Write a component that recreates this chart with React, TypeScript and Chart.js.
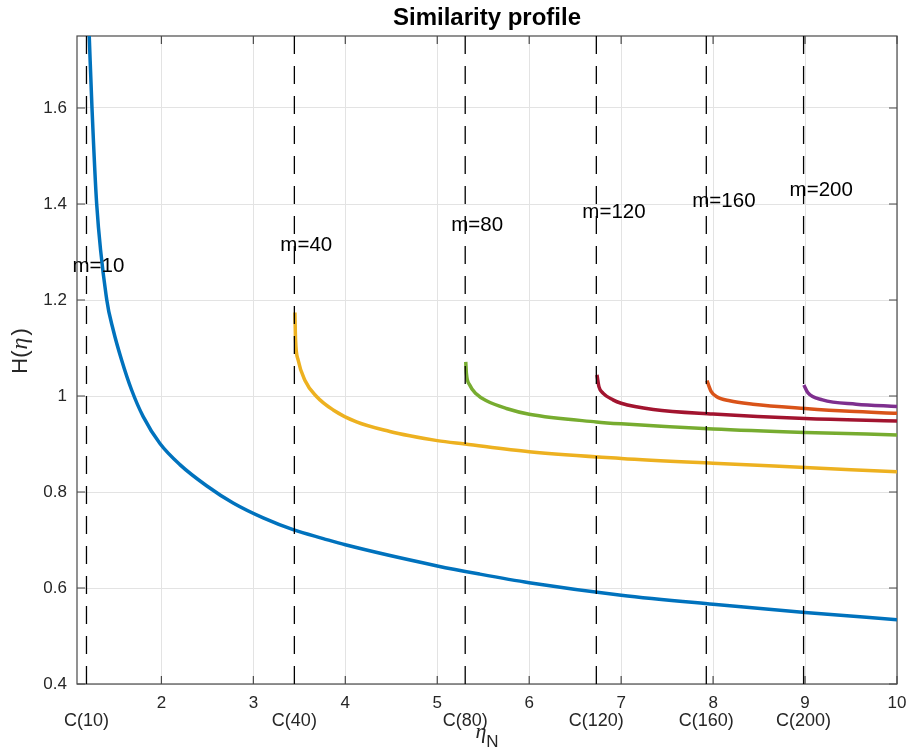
import { useEffect, useRef } from "react";
import { Chart, registerables } from "chart.js";

Chart.register(...registerables);

// ---- axis limits & ticks ----
const X_MIN = 1.082;
const X_MAX = 10;
const Y_MIN = 0.4;
const Y_MAX = 1.75;
const X_TICKS = [2, 3, 4, 5, 6, 7, 8, 9, 10];
const Y_TICKS = [0.4, 0.6, 0.8, 1.0, 1.2, 1.4, 1.6];

// ---- categories ----
const C_POSITIONS = [1.185, 3.446, 5.304, 6.73, 7.926, 8.984];
const C_LABELS = ["C(10)", "C(40)", "C(80)", "C(120)", "C(160)", "C(200)"];
const M_LABELS = ["m=10", "m=40", "m=80", "m=120", "m=160", "m=200"];
const M_LABEL_Y = [1.271, 1.314, 1.356, 1.383, 1.405, 1.428];
const SERIES_COLORS = ["#0072BD", "#EDB120", "#77AC30", "#A2142F", "#D95319", "#7E2F8E"];

// ---- series values [eta, H] ----
const H_M10: [number, number][] = [
  [1.215, 1.75], [1.245, 1.6], [1.296, 1.4], [1.406, 1.2], [1.476, 1.1375],
  [1.567, 1.075], [1.676, 1.0125], [1.802, 0.957], [1.984, 0.901], [2.201, 0.857],
  [2.491, 0.813], [2.78, 0.777], [3.107, 0.746], [3.44, 0.721], [3.76, 0.703],
  [4.0, 0.69], [5.0, 0.646], [5.46, 0.629], [6.0, 0.611], [7.0, 0.585],
  [8.0, 0.566], [9.0, 0.549], [10.0, 0.534],
];
const H_M40: [number, number][] = [
  [3.452, 1.174], [3.459, 1.117], [3.487, 1.075], [3.56, 1.033], [3.687, 0.999],
  [3.868, 0.971], [4.122, 0.946], [4.484, 0.926], [4.701, 0.917], [5.0, 0.907],
  [5.3, 0.9], [6.0, 0.884], [7.0, 0.87], [8.0, 0.86], [9.0, 0.851], [10.0, 0.842],
];
const H_M80: [number, number][] = [
  [5.31, 1.071], [5.317, 1.047], [5.353, 1.023], [5.426, 1.004], [5.535, 0.99],
  [5.752, 0.974], [6.0, 0.962], [6.73, 0.946], [7.0, 0.942], [8.0, 0.931],
  [9.0, 0.924], [10.0, 0.919],
];
const H_M120: [number, number][] = [
  [6.737, 1.044], [6.759, 1.019], [6.802, 1.006], [6.911, 0.992], [7.0, 0.985],
  [7.35, 0.972], [8.0, 0.9625], [9.0, 0.953], [10.0, 0.948],
];
const H_M160: [number, number][] = [
  [7.933, 1.032], [7.98, 1.009], [8.035, 0.999], [8.18, 0.99], [8.433, 0.983],
  [9.0, 0.974], [9.484, 0.968], [10.0, 0.964],
];
const H_M200: [number, number][] = [
  [8.987, 1.023], [9.03, 1.007], [9.19, 0.992], [9.556, 0.983], [10.0, 0.978],
];
const SERIES = [H_M10, H_M40, H_M80, H_M120, H_M160, H_M200];

const SANS = "'Liberation Sans', Arial, Helvetica, sans-serif";
const SERIF = "'Liberation Serif', 'DejaVu Serif', serif";
const AXIS_COLOR = "#4a4a4a";
const TEXT_COLOR = "#262626";

const decorPlugin = {
  id: "matlabDecor",
  beforeDatasetsDraw(chart: any) {
    const { ctx, chartArea: a, scales } = chart;
    ctx.save();
    ctx.strokeStyle = AXIS_COLOR;
    ctx.lineWidth = 1.2;
    ctx.strokeRect(a.left, a.top, a.right - a.left, a.bottom - a.top);
    const L = 8;
    ctx.beginPath();
    X_TICKS.forEach((v) => {
      const px = scales.x.getPixelForValue(v);
      ctx.moveTo(px, a.bottom);
      ctx.lineTo(px, a.bottom - L);
      ctx.moveTo(px, a.top);
      ctx.lineTo(px, a.top + L);
    });
    Y_TICKS.forEach((v) => {
      const py = scales.y.getPixelForValue(v);
      ctx.moveTo(a.left, py);
      ctx.lineTo(a.left + L, py);
      ctx.moveTo(a.right, py);
      ctx.lineTo(a.right - L, py);
    });
    ctx.stroke();
    ctx.restore();
  },
  afterDatasetsDraw(chart: any) {
    const { ctx, scales } = chart;
    ctx.save();
    ctx.fillStyle = "#000";
    ctx.font = `20.5px ${SANS}`;
    ctx.textAlign = "left";
    ctx.textBaseline = "middle";
    M_LABELS.forEach((t, i) => {
      const px = scales.x.getPixelForValue(C_POSITIONS[i]) - 14;
      const py = scales.y.getPixelForValue(M_LABEL_Y[i]);
      ctx.fillText(t, px, py);
    });
    ctx.restore();
  },
  afterDraw(chart: any) {
    const { ctx, chartArea: a } = chart;
    ctx.save();
    ctx.fillStyle = TEXT_COLOR;
    // y title: H(η)
    const yc = (a.top + a.bottom) / 2 - 9;
    ctx.translate(21, yc);
    ctx.rotate(-Math.PI / 2);
    ctx.textBaseline = "middle";
    ctx.textAlign = "left";
    const parts = [
      { t: "H(", f: `22px ${SANS}`, gap: 1 },
      { t: "η", f: `italic 24px ${SERIF}`, gap: 2 },
      { t: ")", f: `22px ${SANS}`, gap: 0 },
    ];
    let total = 0;
    parts.forEach((p) => {
      ctx.font = p.f;
      total += ctx.measureText(p.t).width + p.gap;
    });
    let cx = -total / 2;
    parts.forEach((p) => {
      ctx.font = p.f;
      ctx.fillText(p.t, cx, 0);
      cx += ctx.measureText(p.t).width + p.gap;
    });
    ctx.restore();

    // x title: η_N
    ctx.save();
    ctx.fillStyle = TEXT_COLOR;
    ctx.textBaseline = "alphabetic";
    ctx.textAlign = "left";
    const etaFont = `italic 22px ${SERIF}`;
    const nFont = `17px ${SANS}`;
    ctx.font = etaFont;
    const wEta = ctx.measureText("η").width;
    ctx.font = nFont;
    const wN = ctx.measureText("N").width;
    const xc = (a.left + a.right) / 2;
    const x0 = xc - (wEta + wN) / 2;
    ctx.font = etaFont;
    ctx.fillText("η", x0, 738);
    ctx.font = nFont;
    ctx.fillText("N", x0 + wEta, 747);
    ctx.restore();
  },
};

export default function App() {
  const ref = useRef<HTMLCanvasElement | null>(null);

  useEffect(() => {
    if (!ref.current) return;
    const dashed = C_POSITIONS.map((c) => ({
      type: "line" as const,
      data: [
        { x: c, y: Y_MIN },
        { x: c, y: Y_MAX },
      ],
      borderColor: "#000",
      borderWidth: 1.3,
      borderDash: [18, 12],
      pointRadius: 0,
      fill: false,
      clip: 0,
    }));
    const curves = SERIES.map((s, i) => ({
      type: "line" as const,
      label: M_LABELS[i],
      data: s.map(([x, y]) => ({ x, y })),
      borderColor: SERIES_COLORS[i],
      backgroundColor: SERIES_COLORS[i],
      borderWidth: 3.5,
      pointRadius: 0,
      fill: false,
      cubicInterpolationMode: "monotone" as const,
      clip: 0,
    }));

    const chart = new Chart(ref.current, {
      type: "line",
      data: { datasets: [...dashed, ...curves] as any },
      plugins: [decorPlugin],
      options: {
        animation: false,
        responsive: true,
        maintainAspectRatio: false,
        layout: { padding: { left: 0, right: 10, top: 0, bottom: 0 } },
        plugins: {
          legend: { display: false },
          tooltip: { enabled: false },
          title: {
            display: true,
            text: "Similarity profile",
            color: "#000",
            fullSize: false,
            font: { family: SANS, size: 24, weight: "bold" },
            padding: { top: 4.1, bottom: 3.1 },
          },
        },
        scales: {
          x: {
            type: "linear",
            position: "bottom",
            min: X_MIN,
            max: X_MAX,
            afterBuildTicks: (scale: any) => {
              scale.ticks = X_TICKS.map((v) => ({ value: v }));
            },
            afterFit: (scale: any) => {
              scale.height = 27;
              scale.paddingLeft = 0;
              scale.paddingRight = 0;
            },
            ticks: {
              autoSkip: false,
              maxRotation: 0,
              minRotation: 0,
              padding: 9,
              color: TEXT_COLOR,
              font: { family: SANS, size: 17 },
              callback: (v: any) => String(v),
            },
            grid: { color: "#e3e3e3", lineWidth: 1, drawTicks: false },
            border: { display: false },
          },
          x2: {
            type: "linear",
            position: "bottom",
            min: X_MIN,
            max: X_MAX,
            afterBuildTicks: (scale: any) => {
              scale.ticks = C_POSITIONS.map((v) => ({ value: v }));
            },
            afterFit: (scale: any) => {
              scale.height = 41;
              scale.paddingLeft = 0;
              scale.paddingRight = 0;
            },
            ticks: {
              autoSkip: false,
              maxRotation: 0,
              minRotation: 0,
              padding: -1,
              color: TEXT_COLOR,
              font: { family: SANS, size: 18 },
              callback: (_v: any, i: number) => C_LABELS[i],
            },
            grid: { display: false, drawTicks: false },
            border: { display: false },
          },
          y: {
            type: "linear",
            min: Y_MIN,
            max: Y_MAX,
            afterBuildTicks: (scale: any) => {
              scale.ticks = Y_TICKS.map((v) => ({ value: v }));
            },
            afterFit: (scale: any) => {
              scale.width = 77;
            },
            ticks: {
              padding: 10,
              color: TEXT_COLOR,
              font: { family: SANS, size: 17 },
              callback: (v: any) => String(Math.round(Number(v) * 10) / 10),
            },
            grid: { color: "#e3e3e3", lineWidth: 1, drawTicks: false },
            border: { display: false },
          },
        },
      },
    });
    return () => chart.destroy();
  }, []);

  return (
    <div style={{ position: "absolute", left: 0, top: 0, width: 907, height: 752, background: "#fff" }}>
      <canvas ref={ref} />
    </div>
  );
}
